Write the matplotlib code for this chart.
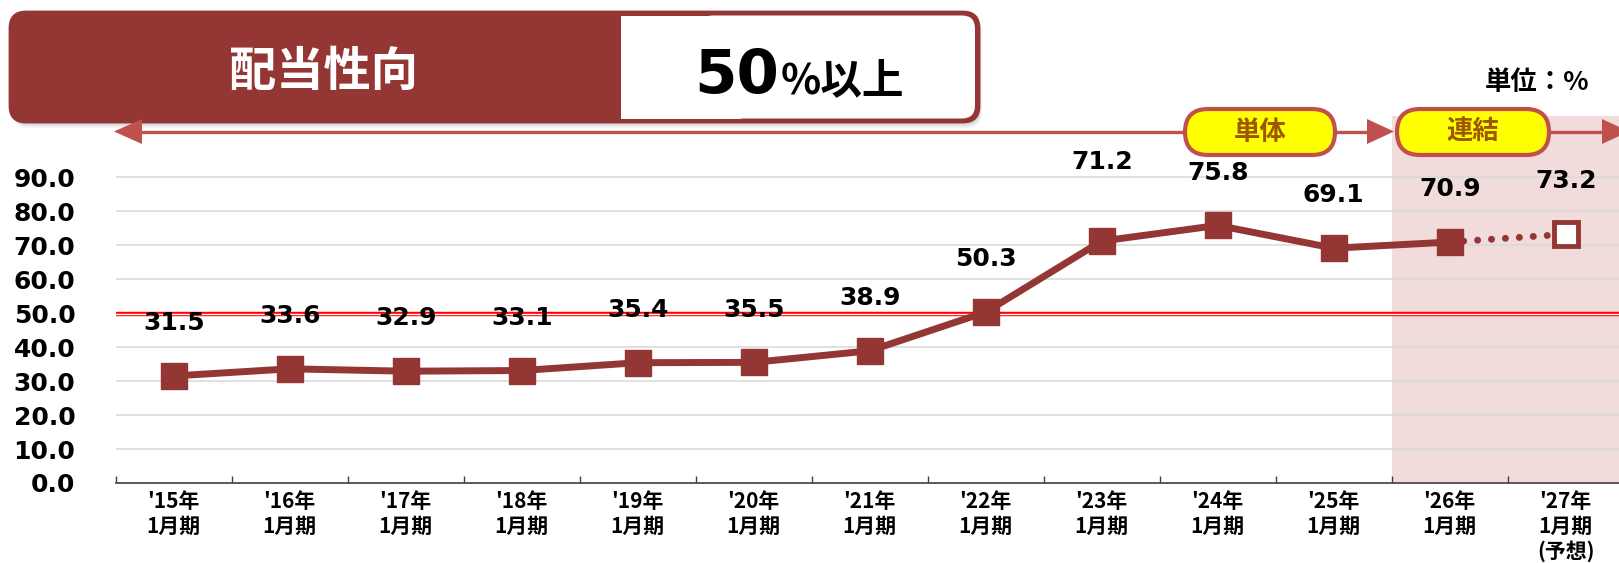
import numpy as np
import matplotlib
matplotlib.use('Agg')
import matplotlib.pyplot as plt
from matplotlib.patches import FancyBboxPatch, Rectangle, Polygon

# data
years = ["'15年", "'16年", "'17年", "'18年", "'19年", "'20年", "'21年",
         "'22年", "'23年", "'24年", "'25年", "'26年", "'27年"]
period = '1月期'
forecast_note = '(予想)'
payout = [31.5, 33.6, 32.9, 33.1, 35.4, 35.5, 38.9, 50.3, 71.2, 75.8, 69.1, 70.9, 73.2]
yticks = [0, 10, 20, 30, 40, 50, 60, 70, 80, 90]
target = 50

DARK = '#943634'
ARROW = '#c0504d'
CJK = ['Noto Sans CJK JP', 'DejaVu Sans']

W, H = 1619, 563
fig = plt.figure(figsize=(W / 100, H / 100), dpi=100)
ax = fig.add_axes([115.7 / W, (H - 483) / H, 1508 / W, 367 / H])

x = np.arange(len(payout))
ax.set_xlim(-0.5, len(payout) - 0.5)
ax.set_ylim(0, 108)

# consolidated zone
ax.axvspan(10.5, len(payout) - 0.5, color='#f2dcdb', zorder=0, lw=0)

ax.set_axisbelow(True)
ax.set_yticks(yticks)
ax.set_yticklabels([f'{v:.1f}' for v in yticks], fontsize=18, fontweight='bold')
ax.yaxis.grid(True, color='#d9d9d9', lw=1.1)
ax.tick_params(axis='y', length=0, pad=29)

labels = [f'{y}\n{period}' for y in years]
labels[-1] += '\n' + forecast_note
ax.set_xticks(x)
ax.set_xticklabels(labels, family=CJK, fontsize=15, fontweight='bold', linespacing=1.2)
ax.tick_params(axis='x', length=0, pad=6)
ax.set_xticks(np.arange(-0.5, len(payout)), minor=True)
ax.tick_params(axis='x', which='minor', direction='in', length=5, color='#404040', width=1)

for s in ['left', 'top', 'right']:
    ax.spines[s].set_visible(False)
ax.spines['bottom'].set_color('#404040')
ax.spines['bottom'].set_linewidth(1.2)

# 50% target line (double line)
ax.axhline(target - 0.4, color='#ff0000', lw=3.2, zorder=1)
ax.axhline(target - 0.4, color='white', lw=1.0, zorder=1.1)

# forecast segment
ax.plot(x[-2:], payout[-2:], color=DARK, lw=5, ls=(0, (0.01, 2.0)),
        dash_capstyle='round', zorder=3)
ax.plot(x[:-1], payout[:-1], color=DARK, lw=5, marker='s', ms=19, zorder=4)
ax.plot(x[-1:], payout[-1:], ls='none', marker='s', ms=17, mfc='white',
        mec=DARK, mew=3.5, zorder=4)

for i, v in enumerate(payout):
    off = 57 if i == 8 else 38
    ax.annotate(f'{v:.1f}', (i, v), xytext=(0, off), textcoords='offset points',
                ha='center', va='center', fontsize=18, fontweight='bold', zorder=5)

# overlay in pixel coordinates
ov = fig.add_axes([0, 0, 1, 1], zorder=10)
ov.set_xlim(0, W)
ov.set_ylim(H, 0)
ov.axis('off')
ov.patch.set_alpha(0)

# banner shadow
for d, a in [(6, 0.10), (4, 0.15), (2, 0.2)]:
    ov.add_patch(FancyBboxPatch((10 + d / 2, 12 + d), 969, 110,
                 boxstyle='round,pad=0,rounding_size=16', fc='gray', ec='none', alpha=a))
ov.add_patch(FancyBboxPatch((10, 12), 969, 110, boxstyle='round,pad=0,rounding_size=16',
                            fc=DARK, ec=DARK, lw=2))
ov.add_patch(FancyBboxPatch((700, 15.5), 275, 103, boxstyle='round,pad=0,rounding_size=13',
                            fc='white', ec='none'))
ov.add_patch(Rectangle((621, 15.5), 120, 103, fc='white', ec='none'))
ov.text(323, 72, '配当性向', family=CJK, fontsize=34, fontweight='bold', color='white',
        ha='center', va='center')
ov.text(779, 93, '50', fontsize=44, fontweight='bold', color='black', ha='right', va='baseline')
ov.text(781, 93, '%以上', family=CJK, fontsize=30, fontweight='bold', color='black',
        ha='left', va='baseline')

ov.text(1537, 82, '単位：%', family=CJK, fontsize=19, fontweight='bold', ha='center', va='center')

# period arrows
ay = 131.5
ov.plot([140, 1185], [ay, ay], color=ARROW, lw=2.4, solid_capstyle='butt')
ov.add_patch(Polygon([(114, ay), (142, ay - 12.5), (142, ay + 12.5)], fc=ARROW, ec='none'))
ov.plot([1335, 1370], [ay, ay], color=ARROW, lw=2.4)
ov.add_patch(Polygon([(1394, ay), (1367, ay - 12.5), (1367, ay + 12.5)], fc=ARROW, ec='none'))
ov.plot([1550, 1605], [ay, ay], color=ARROW, lw=2.4)
ov.add_patch(Polygon([(1629, ay), (1602, ay - 12.5), (1602, ay + 12.5)], fc=ARROW, ec='none'))

for (x0, x1), txt in [((1185, 1335), '単体'), ((1397, 1549), '連結')]:
    ov.add_patch(FancyBboxPatch((x0, 109), x1 - x0, 46, boxstyle='round,pad=0,rounding_size=23',
                                fc='#ffff00', ec=ARROW, lw=3))
    ov.text((x0 + x1) / 2, 132, txt, family=CJK, fontsize=19, fontweight='bold',
            color='#9c5700', ha='center', va='center')

fig.savefig('out.png', dpi=100)
